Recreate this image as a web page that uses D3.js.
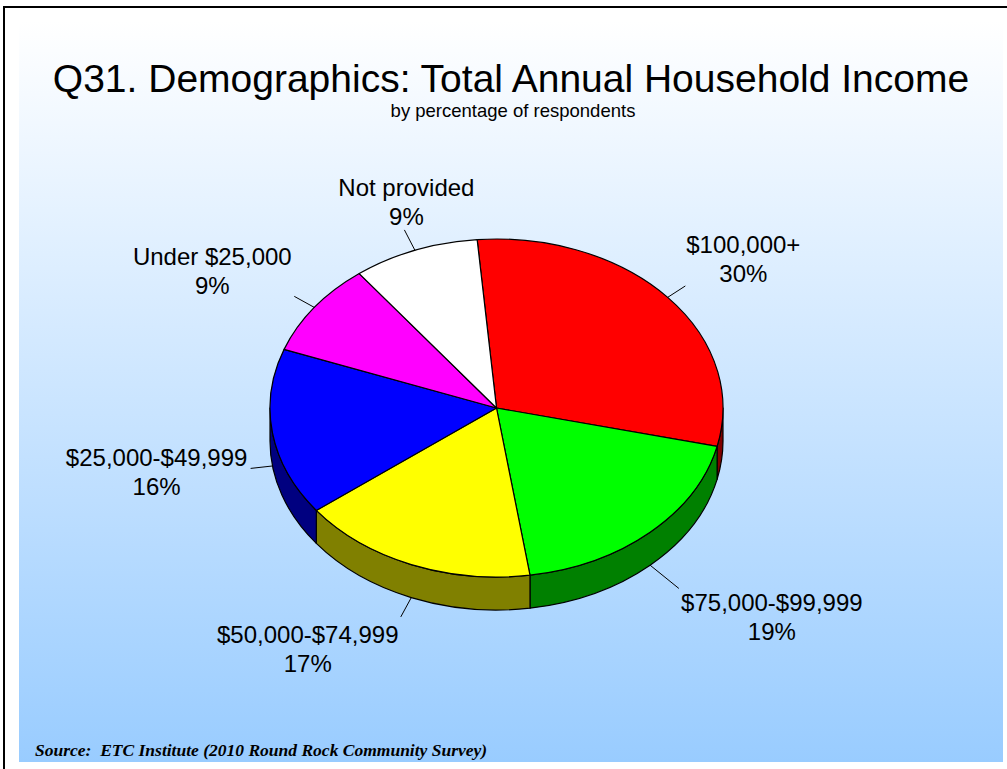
<!DOCTYPE html>
<html>
<head>
<meta charset="utf-8">
<script src="https://cdn.jsdelivr.net/npm/d3@7"></script>
<style>
  html, body { margin: 0; padding: 0; background: #ffffff; }
  svg { display: block; }
</style>
</head>
<body>
<svg id="chart" width="1007" height="769"></svg>
<script>
// Household income categories, in drawing order (clockwise from the top)
const categories = ["$100,000+", "$75,000-$99,999", "$50,000-$74,999", "$25,000-$49,999", "Under $25,000", "Not provided"];
const percents = [30, 19, 17, 16, 9, 9];
const topColors = ["#ff0000", "#00ff00", "#ffff00", "#0000ff", "#ff00ff", "#ffffff"];
const sideColors = ["#800000", "#008000", "#808000", "#000080", "#800080", "#808080"];

const title = "Q31. Demographics: Total Annual Household Income";
const subtitle = "by percentage of respondents";
const source = "Source:  ETC Institute (2010 Round Rock Community Survey)";

const W = 1007, H = 769;
const svg = d3.select("#chart");

// ---- background panel ----
const defs = svg.append("defs");
const grad = defs.append("linearGradient")
  .attr("id", "bg").attr("x1", 0).attr("y1", 0).attr("x2", 0).attr("y2", 1);
grad.append("stop").attr("offset", "0%").attr("stop-color", "#ffffff");
grad.append("stop").attr("offset", "100%").attr("stop-color", "#99ccff");

svg.append("rect").attr("x", 19).attr("y", 21).attr("width", 984).attr("height", 741)
  .attr("fill", "url(#bg)");
// outer frame (runs past the right and bottom edges)
svg.append("rect").attr("x", 4).attr("y", 7).attr("width", 1020).attr("height", 800)
  .attr("fill", "none").attr("stroke", "#000").attr("stroke-width", 2);

// ---- titles ----
svg.append("text").attr("x", 511).attr("y", 92).attr("text-anchor", "middle")
  .style("font-family", "'Liberation Sans', Arial, sans-serif").style("font-size", "39px")
  .attr("fill", "#000").text(title);
svg.append("text").attr("x", 513).attr("y", 117).attr("text-anchor", "middle")
  .style("font-family", "'Liberation Sans', Arial, sans-serif").style("font-size", "18.5px")
  .attr("fill", "#000").text(subtitle);
svg.append("text").attr("x", 35).attr("y", 756)
  .style("font-family", "'Liberation Serif', 'Times New Roman', serif").style("font-size", "17.5px")
  .style("font-weight", "bold").style("font-style", "italic").style("white-space", "pre")
  .attr("fill", "#000").text(source);

// ---- 3D pie ----
const cx = 496.5, cy = 408, rx = 226.5, ry = 169, depth = 33;
const startDeg = -4.9;

const pie = d3.pie().sort(null).value(d => d)
  .startAngle(startDeg * Math.PI / 180)
  .endAngle(startDeg * Math.PI / 180 + 2 * Math.PI);
const arcs = pie(percents);

const pt = (t, dy = 0) => [cx + rx * Math.sin(t), cy - ry * Math.cos(t) + dy];

function topPath(a0, a1) {
  const p = d3.path();
  const s = pt(a0), e = pt(a1);
  p.moveTo(cx, cy);
  p.lineTo(s[0], s[1]);
  const large = (a1 - a0) > Math.PI ? 1 : 0;
  return p.toString() + ` A${rx},${ry} 0 ${large} 1 ${e[0]},${e[1]} Z`;
}

function sidePath(a0, a1) {
  const b0 = Math.max(a0, Math.PI / 2), b1 = Math.min(a1, 3 * Math.PI / 2);
  if (b1 <= b0) return null;
  const s = pt(b0), e = pt(b1), sd = pt(b0, depth), ed = pt(b1, depth);
  return `M${s[0]},${s[1]} A${rx},${ry} 0 0 1 ${e[0]},${e[1]} L${ed[0]},${ed[1]} A${rx},${ry} 0 0 0 ${sd[0]},${sd[1]} Z`;
}

const g = svg.append("g");

// side walls first
g.selectAll("path.side").data(arcs.filter(d => sidePath(d.startAngle, d.endAngle)))
  .join("path").attr("class", "side")
  .attr("d", d => sidePath(d.startAngle, d.endAngle))
  .attr("fill", d => sideColors[d.index])
  .attr("stroke", "#000").attr("stroke-width", 1.2).attr("stroke-linejoin", "round");

// top faces
g.selectAll("path.top").data(arcs).join("path").attr("class", "top")
  .attr("d", d => topPath(d.startAngle, d.endAngle))
  .attr("fill", d => topColors[d.index])
  .attr("stroke", "#000").attr("stroke-width", 1.2).attr("stroke-linejoin", "round");

// ---- leader lines and labels ----
// per-slice leader length and label offset from the leader end
const labelLayout = [
  { len: 21, dx: 58, dy: -33 },
  { len: 37, dx: 93, dy: 23 },
  { len: 22, dx: -93, dy: 26 },
  { len: 22, dx: -94, dy: -2 },
  { len: 23, dx: -82, dy: -31 },
  { len: 23, dx: 2, dy: -34 }
];

const labels = g.selectAll("g.lbl").data(arcs).join("g").attr("class", "lbl");
labels.each(function (d, i) {
  const t = (d.startAngle + d.endAngle) / 2;
  const front = Math.cos(t) < 0;
  const p0 = pt(t, front ? depth : 0);
  let ux = Math.sin(t), uy = -Math.cos(t) * ry / rx;
  const n = Math.hypot(ux, uy); ux /= n; uy /= n;
  const L = labelLayout[i];
  const p1 = [p0[0] + ux * L.len, p0[1] + uy * L.len];
  const sel = d3.select(this);
  sel.append("line").attr("x1", p0[0]).attr("y1", p0[1]).attr("x2", p1[0]).attr("y2", p1[1])
    .attr("stroke", "#000").attr("stroke-width", 1);
  const tx = p1[0] + L.dx, ty = p1[1] + L.dy;
  const txt = sel.append("text").attr("text-anchor", "middle")
    .style("font-family", "'Liberation Sans', Arial, sans-serif").style("font-size", "24px")
    .attr("fill", "#000");
  txt.append("tspan").attr("x", tx).attr("y", ty).text(categories[i]);
  txt.append("tspan").attr("x", tx).attr("y", ty + 29).text(d.data + "%");
});
</script>
</body>
</html>
